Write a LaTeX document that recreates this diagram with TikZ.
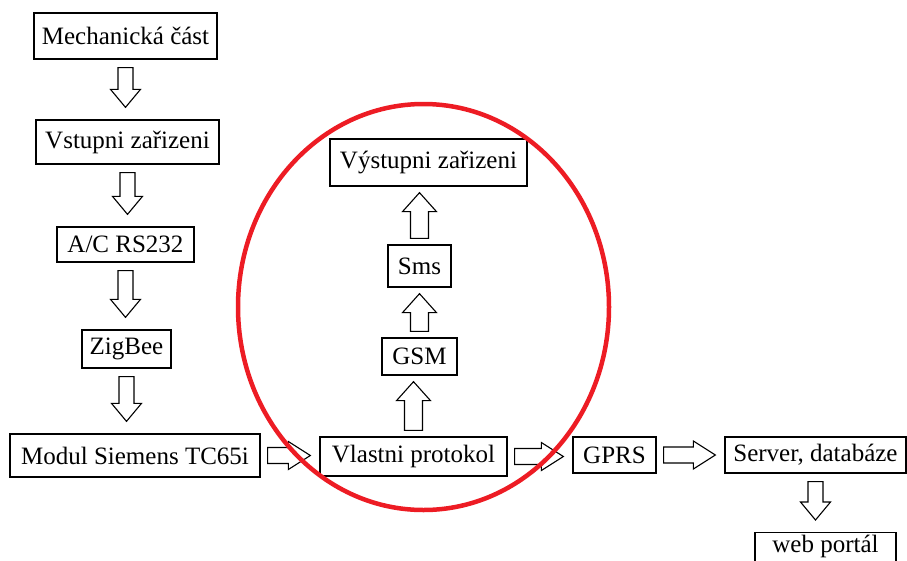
\documentclass[tikz,border=0pt]{standalone}
\usepackage{fontspec}
\setmainfont{Liberation Serif}
\usetikzlibrary{calc}
\definecolor{kruh}{RGB}{237,28,36}

\newcommand{\flowdown}[2]{%
  \draw[blockarrow] let \p1=(#1.south), \p2=(#2.north) in
    (\x1-7.5pt,\y1-8pt) -- (\x1+7.5pt,\y1-8pt) -- (\x1+7.5pt,\y2+30pt) -- (\x1+15pt,\y2+30pt)
    -- (\x1,\y2+12pt) -- (\x1-15pt,\y2+30pt) -- (\x1-7.5pt,\y2+30pt) -- cycle;}
\newcommand{\flowup}[2]{%
  \draw[blockarrow] let \p1=(#1.north), \p2=(#2.south) in
    (\x1-9pt,\y1+6pt) -- (\x1+9pt,\y1+6pt) -- (\x1+9pt,\y2-25pt) -- (\x1+17pt,\y2-25pt)
    -- (\x1,\y2-6pt) -- (\x1-17pt,\y2-25pt) -- (\x1-9pt,\y2-25pt) -- cycle;}
\newcommand{\flowright}[2]{%
  \draw[blockarrow] let \p1=(#1.east), \p2=(#2.west) in
    (\x1+7pt,\y1+8pt) -- (\x1+7pt,\y1-8pt) -- (\x2-31pt,\y1-8pt) -- (\x2-31pt,\y1-14pt)
    -- (\x2-9pt,\y1) -- (\x2-31pt,\y1+14pt) -- (\x2-31pt,\y1+8pt) -- cycle;}

\begin{document}
\begin{tikzpicture}[x=1pt, y=-1pt, font=\fontsize{25}{29}\selectfont,
  box/.style={rectangle, draw=black, line width=1.3pt, fill=white, inner sep=2pt, align=center},
  blockarrow/.style={draw=black, line width=1.1pt, fill=white, line join=miter}]

\useasboundingbox (0,0) rectangle (907,560);

% left column
\node[box, minimum width=183, minimum height=46] (mech) at (125.5,36) {Mechanická část};
\node[box, minimum width=183, minimum height=44] (vstup) at (127.5,142) {Vstupni zařizeni};
\node[box, minimum width=137, minimum height=35] (rs) at (125.5,244.5) {A/C RS232};
\node[box, minimum width=89, minimum height=38] (zig) at (126.5,349) {ZigBee};
\node[box, minimum width=250, minimum height=43] (modul) at (135,455.5) {Modul Siemens TC65i};

% middle column
\node[box, minimum width=187, minimum height=39] (proto) at (413.5,456.5) {Vlastni protokol};
\node[box, minimum width=75, minimum height=37] (gsm) at (419.5,356.5) {GSM};
\node[box, minimum width=63, minimum height=42] (sms) at (419.5,266) {Sms};
\node[box, minimum width=197, minimum height=47] (vystup) at (428.5,162.5) {Výstupni zařizeni};

% right part
\node[box, minimum width=83, minimum height=36] (gprs) at (614.5,455) {GPRS};
\node[box, minimum width=181, minimum height=36] (server) at (815.5,455) {Server, databáze};
\node[box, minimum width=141, text height=18pt, text depth=16pt, anchor=north] (web) at (825.5,532) {web portál};

\flowdown{mech}{vstup}
\flowdown{vstup}{rs}
\flowdown{rs}{zig}
\flowdown{zig}{modul}
\flowright{modul}{proto}
\flowup{proto}{gsm}
\flowup{gsm}{sms}
\flowup{sms}{vystup}
\flowright{proto}{gprs}
\flowright{gprs}{server}
\flowdown{server}{web}

\draw[kruh, line width=4.5pt] (423.5,307) ellipse [x radius=185.5, y radius=203];
\end{tikzpicture}
\end{document}
